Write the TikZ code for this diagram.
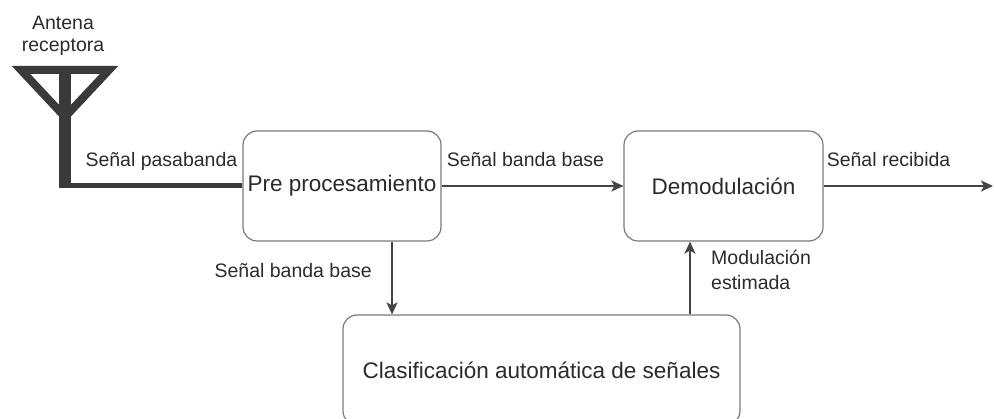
\documentclass[tikz,border=0pt]{standalone}
\usepackage{fontspec}
\setmainfont{Liberation Sans}
\usepackage{xcolor}
\usepackage{tikz}
\usetikzlibrary{arrows.meta,calc}
\definecolor{edge}{HTML}{7A7A7A}
\definecolor{wire}{HTML}{444444}
\definecolor{ink}{HTML}{2B2B2B}
\definecolor{ant}{HTML}{3A3A3A}
\tikzset{
  blk/.style={draw=edge, line width=1.2pt, rounded corners=14pt, fill=white,
    text=ink, font=\fontsize{22.5}{27}\selectfont, inner sep=0pt},
  arr/.style={draw=wire, line width=2.4pt, -{Stealth[length=12pt,width=11pt,inset=3pt]}},
  feed/.style={draw=ant, line width=5pt},
  antl/.style={draw=ant, line width=8pt, line join=miter},
  lbl/.style={text=ink, font=\fontsize{19.5}{25}\selectfont, inner sep=0pt}
}
\begin{document}
\begin{tikzpicture}[x=1pt, y=-1pt]
  \useasboundingbox (0,0) rectangle (994,419);

  \node[blk, minimum width=198pt, minimum height=110pt] (pre) at (342,186) {Pre procesamiento};
  \node[blk, minimum width=199pt, minimum height=110pt] (demod) at (723.5,186) {Demodulación};
  \node[blk, minimum width=397pt, minimum height=110pt] (acs) at (541.5,370) {Clasificación automática de señales};

  \draw[antl] (21,70) -- (109,70) -- (65,117) -- cycle;
  \draw[draw=ant, line width=12pt] (65,68) -- (65,186) coordinate (ant);
  \node[lbl, font=\fontsize{19.5}{22}\selectfont, align=center] (antlab) at (63,36) {Antena\\receptora};
  \coordinate (out) at (993,186);

  \draw[feed] ([xshift=-6pt]ant) -- (pre.west)
    node[lbl, pos=0, anchor=base west, xshift=24pt, yshift=19pt] {Señal pasabanda};
  \draw[arr] (pre.east) -- (demod.west)
    node[lbl, pos=0, anchor=base west, xshift=4pt, yshift=19pt] {Señal banda base};
  \draw[arr] (demod.east) -- (out)
    node[lbl, pos=0, anchor=base west, xshift=2pt, yshift=19pt] {Señal recibida};
  \draw[arr] ([xshift=50pt]pre.south) -- ([xshift=50pt]pre.south |- acs.north)
    node[lbl, left, pos=0.4, xshift=-19pt] {Señal banda base};
  \draw[arr] ([xshift=-33.5pt]demod.south |- acs.north) -- ([xshift=-33.5pt]demod.south)
    node[lbl, right, align=left, pos=0.615, xshift=20pt] {Modulación\\estimada};
\end{tikzpicture}
\end{document}
